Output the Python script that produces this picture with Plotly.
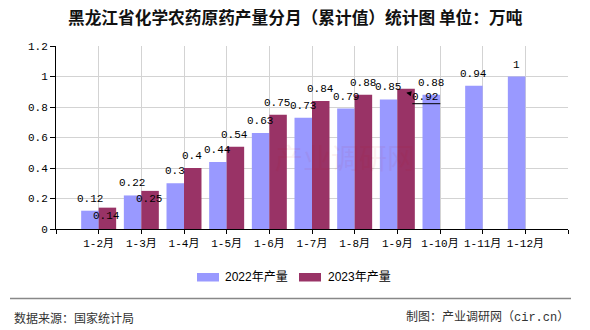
import plotly.graph_objects as go

# Cumulative monthly output of chemical pesticide technical material, Heilongjiang (10k tonnes)
categories = ["1-2月", "1-3月", "1-4月", "1-5月", "1-6月", "1-7月",
              "1-8月", "1-9月", "1-10月", "1-11月", "1-12月"]
series_names = ["2022年产量", "2023年产量"]
values_2022 = [0.12, 0.22, 0.3, 0.44, 0.63, 0.73, 0.79, 0.85, 0.88, 0.94, 1]
values_2023 = [0.14, 0.25, 0.4, 0.54, 0.75, 0.84, 0.88, 0.92]
y_ticks = [0, 0.2, 0.4, 0.6, 0.8, 1, 1.2]

colors = ["#9999FF", "#993366"]
num_font = "Liberation Mono, Noto Sans CJK SC"
cjk_font = "Noto Sans CJK SC"

W, H = 590, 330
ML, MR, MT, MB = 56, 22, 46, 101


def px(x):
    """Figure pixel x -> paper coordinate."""
    return (x - ML) / (W - ML - MR)


def py(y):
    """Figure pixel y (from top) -> paper coordinate."""
    return (H - MB - y) / (H - MT - MB)


positions = list(range(1, len(categories) + 1))

fig = go.Figure()
fig.add_trace(go.Bar(x=positions[:len(values_2022)], y=values_2022, name=series_names[0],
                     marker=dict(color=colors[0], line=dict(width=0))))
fig.add_trace(go.Bar(x=positions[:len(values_2023)], y=values_2023, name=series_names[1],
                     marker=dict(color=colors[1], line=dict(width=0))))

annotations = []
# value labels, 2022 series (left bar of each pair)
for p, v in zip(positions, values_2022):
    annotations.append(dict(x=p, y=v, xref="x", yref="y", text=f"{v:g}", showarrow=False,
                            xshift=-9, yshift=12, yanchor="middle",
                            font=dict(family=num_font, size=11, color="#000")))
# value labels, 2023 series (right bar); a few are nudged to avoid overlaps
label_shift_2023 = {0: -8, 1: -8}
for i, (p, v) in enumerate(zip(positions, values_2023)):
    if i == 7:
        annotations.append(dict(x=p, y=v, xref="x", yref="y", text=f"{v:g}",
                                showarrow=True, arrowhead=2, arrowsize=1, arrowwidth=1,
                                arrowcolor="#000", standoff=0,
                                xshift=9, yshift=-4, ax=19, ay=4,
                                font=dict(family=num_font, size=11, color="#000")))
        continue
    annotations.append(dict(x=p, y=v, xref="x", yref="y", text=f"{v:g}", showarrow=False,
                            xshift=8, yshift=label_shift_2023.get(i, 12), yanchor="middle",
                            font=dict(family=num_font, size=11, color="#000")))

# title
annotations.append(dict(x=px(W / 2), y=py(17), xref="paper", yref="paper",
                        xanchor="center", yanchor="middle", showarrow=False,
                        text="黑龙江省化学农药原药产量分月（累计值）统计图 单位：万吨",
                        font=dict(family=cjk_font, size=16.7, color="#111", weight="bold")))

# legend (swatch + label)
legend_items = [(197, 223), (299, 326)]
shapes = []
for (sx, tx), name, c in zip(legend_items, series_names, colors):
    shapes.append(dict(type="rect", xref="paper", yref="paper",
                       x0=px(sx), x1=px(sx + 22), y0=py(281.5), y1=py(273),
                       fillcolor=c, line=dict(width=0)))
    annotations.append(dict(x=px(tx), y=py(277), xref="paper", yref="paper",
                            xanchor="left", yanchor="middle", showarrow=False, text=name,
                            font=dict(family="Liberation Sans, Noto Sans CJK SC", size=12,
                                      color="#000")))

# leader underline for the shifted 0.92 label
shapes.append(dict(type="line", xref="x", yref="y", xsizemode="pixel", ysizemode="pixel",
                   xanchor=positions[7], yanchor=values_2023[7],
                   x0=15, x1=43, y0=-15, y1=-15, line=dict(color="#000", width=1)))

# footer rule and source notes
shapes.append(dict(type="line", xref="paper", yref="paper",
                   x0=px(10), x1=px(571), y0=py(298.5), y1=py(298.5),
                   line=dict(color="#888", width=1.5)))
annotations.append(dict(x=px(12), y=py(317), xref="paper", yref="paper",
                        xanchor="left", yanchor="middle", showarrow=False,
                        text="数据来源：国家统计局",
                        font=dict(family=cjk_font, size=12, color="#333")))
annotations.append(dict(x=px(571), y=py(317), xref="paper", yref="paper",
                        xanchor="right", yanchor="middle", showarrow=False,
                        text="制图：产业调研网（cir.cn）",
                        font=dict(family=num_font, size=12, color="#333")))

# faint watermark
annotations.append(dict(x=px(345), y=py(157), xref="paper", yref="paper",
                        xanchor="center", yanchor="middle", showarrow=False,
                        text="产业调研网", opacity=0.05,
                        font=dict(family=cjk_font, size=28, color="#c00000")))

fig.update_layout(
    width=W, height=H,
    margin=dict(l=ML, r=MR, t=MT, b=MB, pad=0),
    paper_bgcolor="#ffffff", plot_bgcolor="#ffffff",
    barmode="group", bargap=0.18, bargroupgap=0,
    showlegend=False,
    annotations=annotations, shapes=shapes,
    xaxis=dict(range=[0, len(categories) + 1],
               tickmode="array",
               tickvals=[0] + positions + [len(categories) + 1],
               ticktext=[""] + categories + [""],
               showgrid=True, gridcolor="#d3d3d3", gridwidth=1,
               showline=True, linecolor="#000", linewidth=1,
               ticks="outside", ticklen=4, tickcolor="#000",
               tickfont=dict(family=num_font, size=11, color="#000"),
               zeroline=False, fixedrange=True),
    yaxis=dict(range=[0, 1.2], tickmode="array", tickvals=y_ticks,
               ticktext=[f"{t:g}" for t in y_ticks],
               showgrid=True, gridcolor="#d3d3d3", gridwidth=1,
               showline=True, linecolor="#000", linewidth=1,
               ticks="outside", ticklen=5, tickcolor="#000",
               tickfont=dict(family=num_font, size=11, color="#000"),
               zeroline=False, fixedrange=True),
)

fig.write_html("out.html", config={"displayModeBar": False})
